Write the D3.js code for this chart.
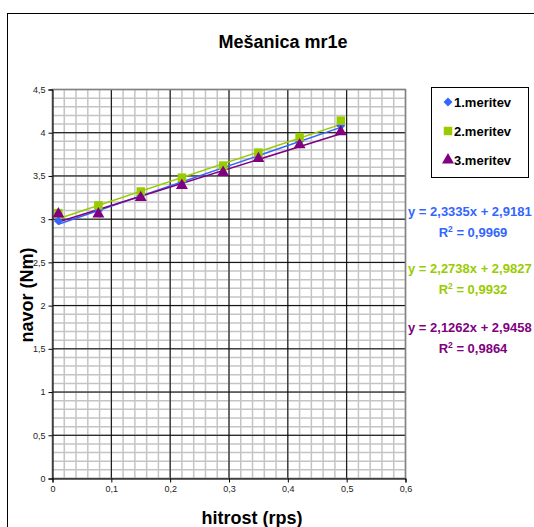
<!DOCTYPE html>
<html>
<head>
<meta charset="utf-8">
<script src="https://cdn.jsdelivr.net/npm/d3@7"></script>
<style>
  html, body { margin: 0; padding: 0; background: #fff; }
  svg { display: block; font-family: Arial, "Liberation Sans", sans-serif; }
</style>
</head>
<body>
<svg id="chart" width="534" height="527"></svg>
<script>
// Measurement data: speed (rps) vs torque (Nm), three runs
const speeds = [0.01, 0.078, 0.15, 0.22, 0.29, 0.35, 0.42, 0.49];
const meritev1 = [2.98, 3.10, 3.27, 3.43, 3.59, 3.73, 3.90, 4.08];
const meritev2 = [3.07, 3.16, 3.32, 3.48, 3.62, 3.77, 3.95, 4.14];
const meritev3 = [3.06, 3.06, 3.25, 3.39, 3.54, 3.70, 3.86, 4.01];
const seriesNames = ["1.meritev", "2.meritev", "3.meritev"];
const seriesColors = ["#3366ff", "#99cc00", "#800080"];
// Linear trend fits: slope, intercept, R²
const slopes = [2.3335, 2.2738, 2.1262];
const intercepts = [2.9181, 2.9827, 2.9458];
const r2 = ["0,9969", "0,9932", "0,9864"];
const xTicks = [0, 0.1, 0.2, 0.3, 0.4, 0.5, 0.6];
const yTicks = [0, 0.5, 1, 1.5, 2, 2.5, 3, 3.5, 4, 4.5];

const fmt = v => String(v).replace(".", ",");
const svg = d3.select("#chart");

// Chart frame
svg.append("rect").attr("x", 7.5).attr("y", 13.5).attr("width", 560).attr("height", 560)
  .attr("fill", "#fff").attr("stroke", "#000").attr("stroke-width", 1);

const x = d3.scaleLinear().domain([0, 0.6]).range([52.5, 405.5]);
const y = d3.scaleLinear().domain([0, 4.5]).range([478.5, 89.5]);

const plot = svg.append("g");
// Minor grid
const minorX = d3.range(0, 0.6001, 0.02);
const minorY = d3.range(0, 4.5001, 0.1);
plot.selectAll(".mx").data(minorX).join("line")
  .attr("x1", d => x(d)).attr("x2", d => x(d)).attr("y1", y(0)).attr("y2", y(4.5))
  .attr("stroke", "#c4c4c4").attr("stroke-width", 1.5);
plot.selectAll(".my").data(minorY).join("line")
  .attr("x1", x(0)).attr("x2", x(0.6)).attr("y1", d => y(d)).attr("y2", d => y(d))
  .attr("stroke", "#c4c4c4").attr("stroke-width", 1.5);
// Major grid
plot.selectAll(".gx").data(xTicks).join("line")
  .attr("x1", d => x(d)).attr("x2", d => x(d)).attr("y1", y(0)).attr("y2", y(4.5))
  .attr("stroke", "#000").attr("stroke-width", 1);
plot.selectAll(".gy").data(yTicks).join("line")
  .attr("x1", x(0)).attr("x2", x(0.6)).attr("y1", d => y(d)).attr("y2", d => y(d))
  .attr("stroke", "#000").attr("stroke-width", 1);
// Plot border
plot.append("rect").attr("x", x(0)).attr("y", y(4.5))
  .attr("width", x(0.6) - x(0)).attr("height", y(0) - y(4.5))
  .attr("fill", "none").attr("stroke", "#808080").attr("stroke-width", 1.5);

// Axes
const xAxis = svg.append("g").attr("transform", `translate(0,${y(0)})`)
  .call(d3.axisBottom(x).tickValues(xTicks).tickFormat(fmt).tickSize(4).tickPadding(3));
const yAxis = svg.append("g").attr("transform", `translate(${x(0)},0)`)
  .call(d3.axisLeft(y).tickValues(yTicks).tickFormat(fmt).tickSize(4).tickPadding(3));
[xAxis, yAxis].forEach(a => {
  a.select(".domain").attr("stroke", "#000");
  a.selectAll(".tick line").attr("stroke", "#000");
  a.selectAll("text").attr("font-size", 9).attr("fill", "#222")
    .attr("font-family", "Arial, 'Liberation Sans', sans-serif");
});

// Trend lines
const data = [meritev1, meritev2, meritev3];
const xMin = d3.min(speeds), xMax = d3.max(speeds);
data.forEach((s, i) => {
  svg.append("line")
    .attr("x1", x(xMin)).attr("y1", y(slopes[i] * xMin + intercepts[i]))
    .attr("x2", x(xMax)).attr("y2", y(slopes[i] * xMax + intercepts[i]))
    .attr("stroke", seriesColors[i]).attr("stroke-width", 1.5);
});

// Markers: square diamond, square, triangle
const squareDiamond = {
  draw(ctx, size) {
    const r = Math.sqrt(size / 2);
    ctx.moveTo(0, -r); ctx.lineTo(r, 0); ctx.lineTo(0, r); ctx.lineTo(-r, 0); ctx.closePath();
  }
};
const symbols = [
  d3.symbol().type(squareDiamond).size(40),
  d3.symbol().type(d3.symbolSquare).size(72),
  d3.symbol().type(d3.symbolTriangle).size(62)
];
data.forEach((s, i) => {
  svg.append("g").selectAll("path").data(s).join("path")
    .attr("transform", (d, j) => `translate(${x(speeds[j])},${y(d)})`)
    .attr("d", symbols[i]).attr("fill", seriesColors[i]);
});

// Title
svg.append("text").attr("x", 283).attr("y", 48).attr("text-anchor", "middle")
  .attr("font-size", 18).attr("font-weight", "bold").text("Mešanica mr1e");

// Axis titles
svg.append("text").attr("x", 252).attr("y", 524).attr("text-anchor", "middle")
  .attr("font-size", 18).attr("font-weight", "bold").text("hitrost (rps)");
svg.append("text").attr("transform", "translate(33,295) rotate(-90)").attr("text-anchor", "middle")
  .attr("font-size", 18).attr("font-weight", "bold").text("navor (Nm)");

// Legend
const lg = svg.append("g");
lg.append("rect").attr("x", 431.5).attr("y", 87.5).attr("width", 97).attr("height", 90)
  .attr("fill", "#fff").attr("stroke", "#000");
seriesNames.forEach((n, i) => {
  const ly = 102 + i * 29;
  lg.append("path").attr("transform", `translate(448,${ly})`).attr("d", symbols[i])
    .attr("fill", seriesColors[i]);
  lg.append("text").attr("x", 454).attr("y", ly + 5).attr("font-size", 13)
    .attr("font-weight", "bold").text(n);
});

// Trend equations
const eqBase = [216, 273, 332];
data.forEach((s, i) => {
  const base = eqBase[i];
  svg.append("text").attr("x", 408).attr("y", base).attr("font-size", 13)
    .attr("font-weight", "bold").attr("fill", seriesColors[i])
    .text(`y = ${fmt(slopes[i])}x + ${fmt(intercepts[i])}`);
  const t = svg.append("text").attr("x", 473).attr("y", base + 21).attr("text-anchor", "middle")
    .attr("font-size", 13).attr("font-weight", "bold").attr("fill", seriesColors[i]);
  t.append("tspan").text("R");
  t.append("tspan").attr("dy", -5).attr("font-size", 8.5).text("2");
  t.append("tspan").attr("dy", 5).text(` = ${r2[i]}`);
});
</script>
</body>
</html>
